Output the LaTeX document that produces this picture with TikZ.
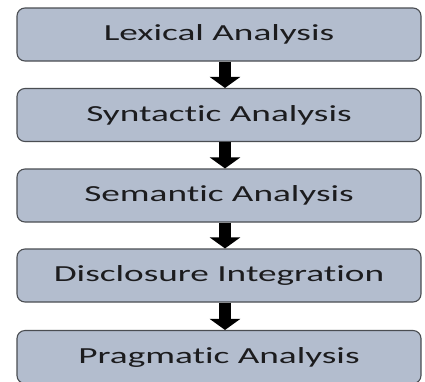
\documentclass[tikz,border=0pt]{standalone}
\usepackage{fontspec}
\setmainfont[FakeStretch=1.62,Ligatures=NoCommon]{Carlito}
\usetikzlibrary{arrows.meta}
\definecolor{boxfill}{HTML}{B3BDCE}
\definecolor{boxedge}{HTML}{4A4D52}
\definecolor{txt}{HTML}{1C1C1E}
\tikzset{
  stage/.style={draw=boxedge, line width=1.1pt, fill=boxfill, rounded corners=8pt,
    minimum width=404pt, minimum height=53pt, inner sep=0pt, text=txt,
    font=\fontsize{23}{26}\selectfont},
  flow/.style={line width=12pt, draw=black, -{Triangle[width=30pt,length=11pt]}}
}
\begin{document}
\begin{tikzpicture}[x=1pt,y=1pt]
\useasboundingbox (0,0) rectangle (425,-381);
\clip (0,0) rectangle (425,-381);
\node[stage] (b1) at (219,-34.5) {Lexical Analysis};
\node[stage] (b2) at (219,-115) {Syntactic Analysis};
\node[stage] (b3) at (219,-195.5) {Semantic Analysis};
\node[stage] (b4) at (219,-275.5) {Disclosure Integration};
\node[stage] (b5) at (219,-357) {Pragmatic Analysis};
\draw[flow] ([xshift=6pt]b1.south) -- ([xshift=6pt]b2.north);
\draw[flow] ([xshift=6pt]b2.south) -- ([xshift=6pt]b3.north);
\draw[flow] ([xshift=6pt]b3.south) -- ([xshift=6pt]b4.north);
\draw[flow] ([xshift=6pt]b4.south) -- ([xshift=6pt]b5.north);
\end{tikzpicture}
\end{document}
